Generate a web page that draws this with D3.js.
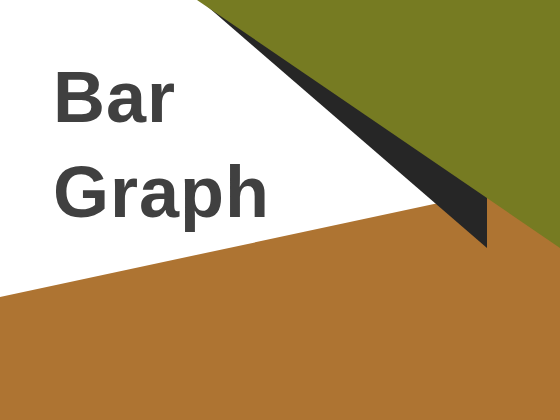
<!DOCTYPE html>
<html>
<head>
<meta charset="utf-8">
<style>
  html, body { margin: 0; padding: 0; background: #fff; }
  svg { display: block; }
</style>
<script src="https://d3js.org/d3.v7.min.js"></script>
</head>
<body>
<div id="slide"></div>
<script>
// title lines
var titleLines = ["Bar", "Graph"];

// shapes in slide units (0..560 x 0..420)
var brownShape = [[0, 297], [560, 177], [560, 420], [0, 420]];
var blackShape = [[200, 0], [487, 248], [487, 150]];
var greenShape = [[197, 0], [560, 0], [560, 248]];

var width = 560, height = 420;

var svg = d3.select("#slide").append("svg")
  .attr("width", width)
  .attr("height", height);

var x = d3.scaleLinear().domain([0, 560]).range([0, width]);
var y = d3.scaleLinear().domain([0, 420]).range([0, height]);

var line = d3.line()
  .x(function(d) { return x(d[0]); })
  .y(function(d) { return y(d[1]); });

function shape(pts, color) {
  svg.append("path")
    .attr("d", line(pts) + "Z")
    .attr("fill", color);
}

shape(brownShape, "#ae7432");
shape(blackShape, "#262626");
shape(greenShape, "#767b22");

// title
svg.selectAll("text.title")
  .data(titleLines)
  .enter().append("text")
  .attr("class", "title")
  .attr("x", 53)
  .attr("y", function(d, i) { return 122 + i * 95; })
  .attr("font-family", "Liberation Sans, Arial, sans-serif")
  .attr("font-weight", "bold")
  .attr("font-size", 72)
  .attr("letter-spacing", 1)
  .attr("fill", "#404040")
  .text(function(d) { return d; });
</script>
</body>
</html>
